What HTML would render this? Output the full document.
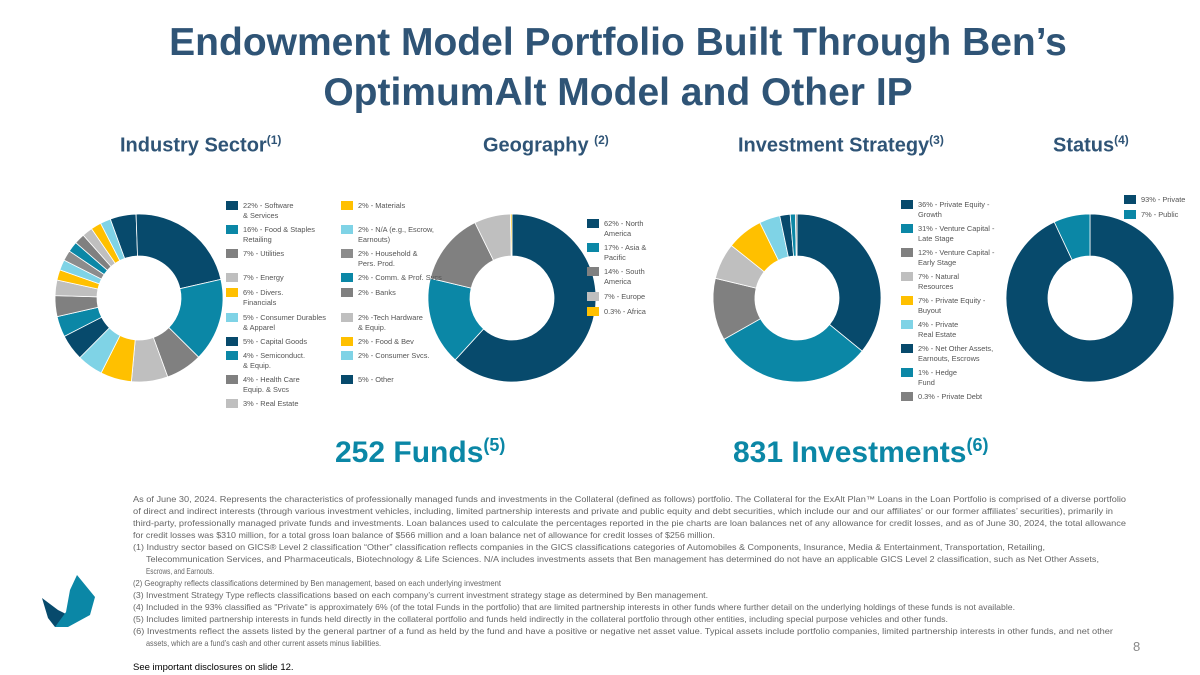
<!DOCTYPE html>
<html><head><meta charset="utf-8">
<style>
body{margin:0;background:#fff;}
#root{position:relative;width:1200px;height:675px;overflow:hidden;font-family:"Liberation Sans",sans-serif;}
.t{position:absolute;}
.title{left:18px;width:1200px;text-align:center;color:#2f5476;font-weight:bold;font-size:39px;line-height:50px;top:18px;}
.h{color:#2f5476;font-weight:bold;font-size:20px;top:133px;}
.h sup{font-size:12px;}
.big{color:#0b87a6;font-weight:bold;font-size:30px;top:435px;}
.big sup{font-size:18px;}
.lg{position:absolute;font-size:7.4px;color:#555;line-height:9.5px;}
.lg i{position:absolute;left:-17px;top:0;width:12px;height:9px;}
</style></head><body>
<div id="root">
<div class="t title">Endowment Model Portfolio Built Through Ben’s<br>OptimumAlt Model and Other IP</div>
<div class="t h" style="left:120px">Industry Sector<sup>(1)</sup></div>
<div class="t h" style="left:483px">Geography <sup>(2)</sup></div>
<div class="t h" style="left:738px">Investment Strategy<sup>(3)</sup></div>
<div class="t h" style="left:1053px">Status<sup>(4)</sup></div>
<div class="t big" style="left:335px">252 Funds<sup>(5)</sup></div>
<div class="t big" style="left:733px">831 Investments<sup>(6)</sup></div>
<svg id="charts" width="1200" height="675" style="position:absolute;left:0;top:0"></svg>
<div id="legends"></div>
<svg width="1200" height="675" style="position:absolute;left:0;top:0">
<g font-family="Liberation Sans, sans-serif" font-size="8.3" fill="#666">
<text x="133" y="502" textLength="993" lengthAdjust="spacingAndGlyphs">As of June 30, 2024. Represents the characteristics of professionally managed funds and investments in the Collateral (defined as follows) portfolio.  The Collateral for the ExAlt Plan™ Loans in the Loan Portfolio is comprised of a diverse portfolio</text>
<text x="133" y="514" textLength="980" lengthAdjust="spacingAndGlyphs">of direct and indirect interests (through various investment vehicles, including, limited partnership interests and private and public equity and debt securities, which include our and our affiliates’ or our former affiliates’ securities), primarily in</text>
<text x="133" y="526" textLength="993" lengthAdjust="spacingAndGlyphs">third-party, professionally managed private funds and investments. Loan balances used to calculate the percentages reported in the pie charts are loan balances net of any allowance for credit losses, and as of June 30, 2024, the total allowance</text>
<text x="133" y="538" textLength="582" lengthAdjust="spacingAndGlyphs">for credit losses was $310 million, for a total gross loan balance of $566 million and a loan balance net of allowance for credit losses of $256 million.</text>
<text x="133" y="550" textLength="912" lengthAdjust="spacingAndGlyphs">(1) Industry sector based on GICS® Level 2 classification “Other” classification reflects companies in the GICS classifications categories of Automobiles &amp; Components, Insurance, Media &amp; Entertainment, Transportation, Retailing,</text>
<text x="146" y="562" textLength="953" lengthAdjust="spacingAndGlyphs">Telecommunication Services, and Pharmaceuticals, Biotechnology &amp; Life Sciences.  N/A includes investments assets that Ben management has determined do not have an applicable GICS Level 2 classification, such as Net Other Assets,</text>
<text x="146" y="574" textLength="68" lengthAdjust="spacingAndGlyphs">Escrows, and Earnouts.</text>
<text x="133" y="586" textLength="368" lengthAdjust="spacingAndGlyphs">(2) Geography reflects classifications determined by Ben management, based on each underlying investment</text>
<text x="133" y="598" textLength="575" lengthAdjust="spacingAndGlyphs">(3) Investment Strategy Type reflects classifications based on each company’s current investment strategy stage as determined by Ben management.</text>
<text x="133" y="610" textLength="882" lengthAdjust="spacingAndGlyphs">(4) Included in the 93% classified as "Private" is approximately 6% (of the total Funds in the portfolio) that are limited partnership interests in other funds where further detail on the underlying holdings of these funds is not available.</text>
<text x="133" y="622" textLength="815" lengthAdjust="spacingAndGlyphs">(5) Includes limited partnership interests in funds held directly in the collateral portfolio and funds held indirectly in the collateral portfolio through other entities, including special purpose vehicles and other funds.</text>
<text x="133" y="634" textLength="980" lengthAdjust="spacingAndGlyphs">(6) Investments reflect the assets listed by the general partner of a fund as held by the fund and have a positive or negative net asset value. Typical assets include portfolio companies, limited partnership interests in other funds, and net other</text>
<text x="146" y="646" textLength="235" lengthAdjust="spacingAndGlyphs">assets, which are a fund’s cash and other current assets minus liabilities.</text>
</g>
<text x="1133" y="651" font-size="13" fill="#888" font-family="Liberation Sans, sans-serif">8</text>
<text x="133" y="670" font-size="9.5" fill="#000" font-family="Liberation Sans, sans-serif">See important disclosures on slide 12.</text>
<g>
<polygon points="42,598 58,610 66,614 62,627 55,627 48,618" fill="#074a6c"/>
<polygon points="77,575 95,597 90,615 68,627 55,627 66,612 70,590" fill="#0b87a6"/>
</g>
</svg>
</div>
<script>
const NAVY="#074a6c",TEAL="#0b87a6",GRAY="#808080",LGRAY="#bfbfbf",YEL="#ffc000",LBLUE="#7fd3e6",DGRAY="#8c8c8c";
const sectorLabels=["5% - Other","22% - Software & Services","16% - Food & Staples Retailing","7% - Utilities","7% - Energy","6% - Divers. Financials","5% - Consumer Durables & Apparel","5% - Capital Goods","4% - Semiconduct. & Equip.","4% - Health Care Equip. & Svcs","3% - Real Estate","2% - Materials","2% - N/A","2% - Household & Pers. Prod.","2% - Comm. & Prof. Svcs","2% - Banks","2% - Tech Hardware","2% - Food & Bev","2% - Consumer Svcs."];
const sectorValues=[5,22,16,7,7,6,5,5,4,4,3,2,2,2,2,2,2,2,2];
const sectorColors=[NAVY,NAVY,TEAL,GRAY,LGRAY,YEL,LBLUE,NAVY,TEAL,GRAY,LGRAY,YEL,LBLUE,DGRAY,TEAL,GRAY,LGRAY,YEL,LBLUE];
const geoValues=[62,17,14,7,0.3];
const geoColors=[NAVY,TEAL,GRAY,LGRAY,YEL];
const stratValues=[36,31,12,7,7,4,2,1,0.3];
const stratColors=[NAVY,TEAL,GRAY,LGRAY,YEL,LBLUE,NAVY,TEAL,GRAY];
const statusValues=[93,7];
const statusColors=[NAVY,TEAL];
const NS="http://www.w3.org/2000/svg";
const svg=document.getElementById('charts');
function pt(cx,cy,r,a){return [cx+r*Math.sin(a),cy-r*Math.cos(a)];}
function donut(name,vals,cols,cx,cy,R,r,start){
  const tot=vals.reduce((a,b)=>a+b,0);let a=start*Math.PI/180;
  vals.forEach((v,i)=>{
    const da=v/tot*2*Math.PI,b=a+da,lg=da>Math.PI?1:0;
    const p1=pt(cx,cy,R,a),p2=pt(cx,cy,R,b),p3=pt(cx,cy,r,b),p4=pt(cx,cy,r,a);
    const p=document.createElementNS(NS,'path');
    p.setAttribute('d',`M${p1}A${R},${R} 0 ${lg} 1 ${p2}L${p3}A${r},${r} 0 ${lg} 0 ${p4}Z`);
    p.setAttribute('fill',cols[i]);p.setAttribute('stroke','#fff');p.setAttribute('stroke-width','0.8');
    
    
    svg.appendChild(p);a=b;
  });
}
donut('sector',sectorValues,sectorColors,139,298,84,42,-20);
donut('geography',geoValues,geoColors,512,298,84,42,0);
donut('strategy',stratValues,stratColors,797,298,84,42,0);
donut('status',statusValues,statusColors,1090,298,84,42,0);
const L=document.getElementById('legends');
function leg(x,y,c,t){const d=document.createElement('div');d.className='lg';d.style.left=x+'px';d.style.top=y+'px';
d.innerHTML='<i style="background:'+c+'"></i>'+t;


L.appendChild(d);}
[[201,NAVY,"22% - Software<br>&amp; Services"],[225,TEAL,"16% - Food &amp; Staples<br>Retailing"],[249,GRAY,"7% - Utilities"],[273,LGRAY,"7% - Energy"],[288,YEL,"6% - Divers.<br>Financials"],[313,LBLUE,"5% - Consumer Durables<br>&amp; Apparel"],[337,NAVY,"5% - Capital Goods"],[351,TEAL,"4% - Semiconduct.<br>&amp; Equip."],[375,GRAY,"4% - Health Care<br>Equip. &amp; Svcs"],[399,LGRAY,"3% - Real Estate"]].forEach(e=>leg(243,e[0],e[1],e[2]));
[[201,YEL,"2% - Materials"],[225,LBLUE,"2% - N/A (e.g., Escrow,<br>Earnouts)"],[249,DGRAY,"2% - Household &amp;<br>Pers. Prod."],[273,TEAL,"2% - Comm. &amp; Prof. Svcs"],[288,GRAY,"2% - Banks"],[313,LGRAY,"2% -Tech Hardware<br>&amp; Equip."],[337,YEL,"2% - Food &amp; Bev"],[351,LBLUE,"2% - Consumer Svcs."],[375,NAVY,"5% - Other"]].forEach(e=>leg(358,e[0],e[1],e[2]));
[[219,NAVY,"62% - North<br>America"],[243,TEAL,"17% - Asia &amp;<br>Pacific"],[267,GRAY,"14% - South<br>America"],[292,LGRAY,"7% - Europe"],[307,YEL,"0.3% - Africa"]].forEach(e=>leg(604,e[0],e[1],e[2]));
[[200,NAVY,"36% - Private Equity -<br>Growth"],[224,TEAL,"31% - Venture Capital -<br>Late Stage"],[248,GRAY,"12% - Venture Capital -<br>Early Stage"],[272,LGRAY,"7% - Natural<br>Resources"],[296,YEL,"7% - Private Equity -<br>Buyout"],[320,LBLUE,"4% - Private<br>Real Estate"],[344,NAVY,"2% - Net Other Assets,<br>Earnouts, Escrows"],[368,TEAL,"1% - Hedge<br>Fund"],[392,GRAY,"0.3% - Private Debt"]].forEach(e=>leg(918,e[0],e[1],e[2]));
[[195,NAVY,"93% - Private"],[210,TEAL,"7% - Public"]].forEach(e=>leg(1141,e[0],e[1],e[2]));
</script>
</body></html>
